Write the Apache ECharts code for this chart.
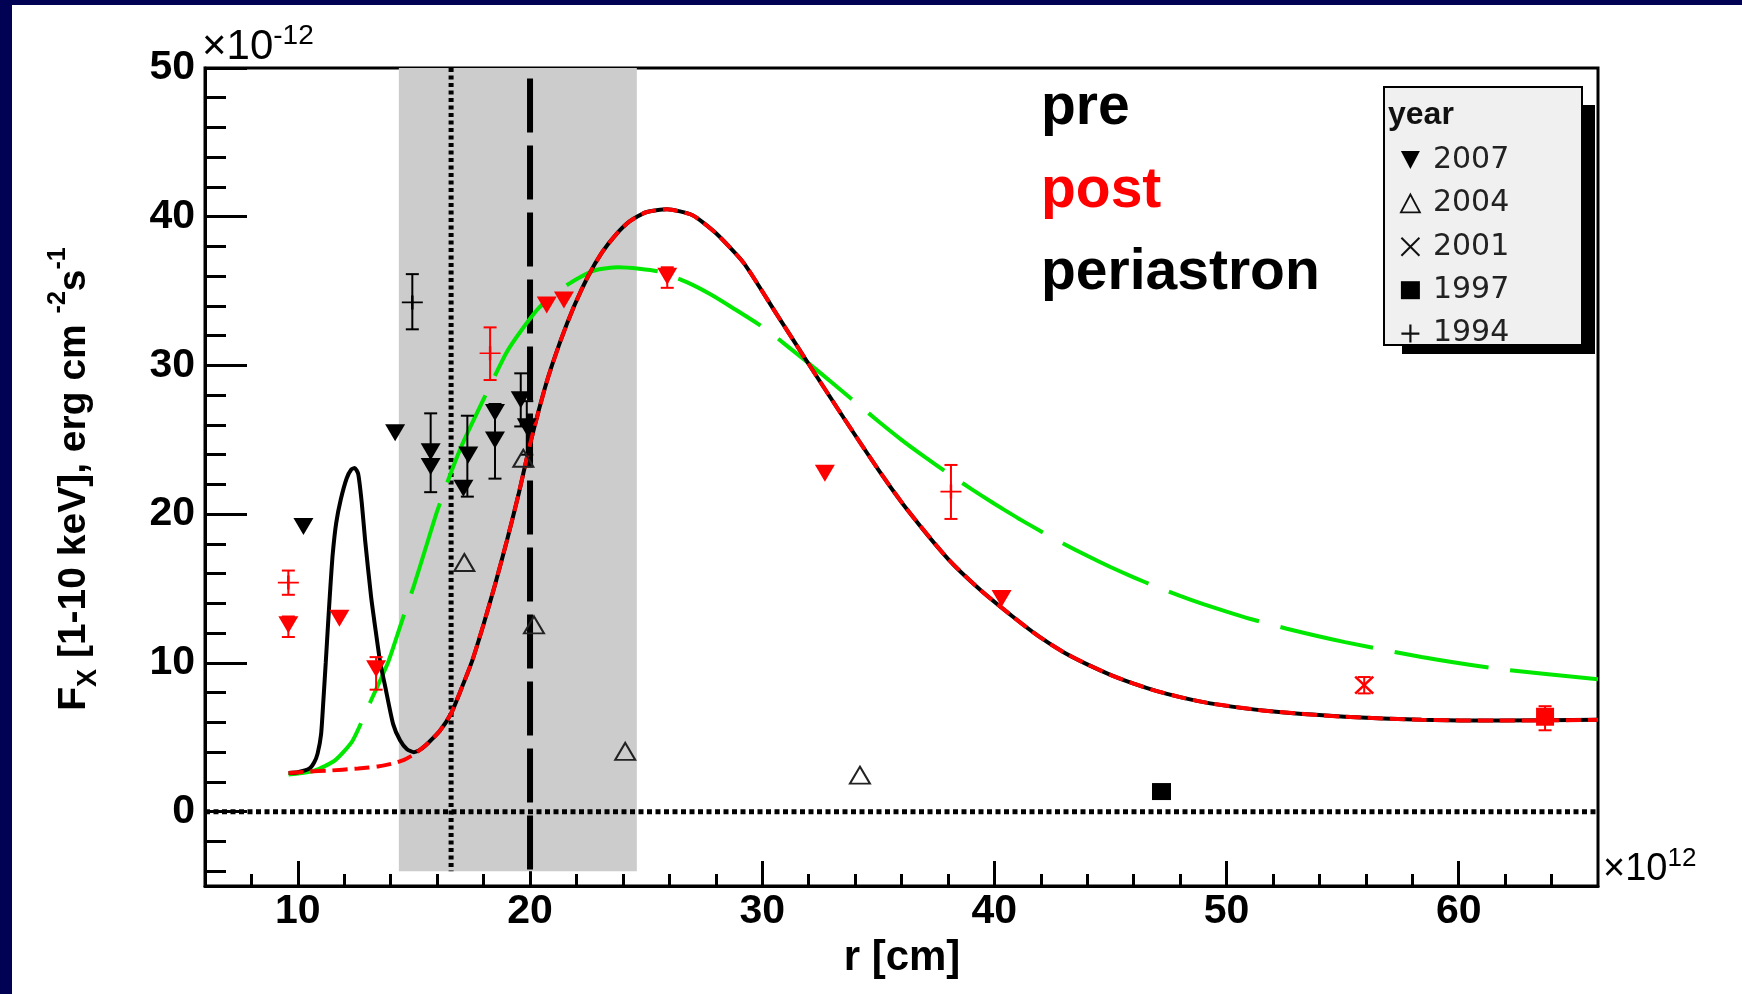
<!DOCTYPE html>
<html><head><meta charset="utf-8">
<script src="https://cdn.jsdelivr.net/npm/echarts@6/dist/echarts.min.js"></script>
<style>html,body{margin:0;padding:0;background:#fff;}#c{width:1742px;height:994px;}</style>
</head><body><div id="c"></div>
<script>
// ---- axes ----
const xRange = [6, 66];
const yRange = [-5, 50];
const xTicks = [10, 20, 30, 40, 50, 60];
const xMinorTicks = [8,12,14,16,18,22,24,26,28,32,34,36,38,42,44,46,48,52,54,56,58,62,64];
const yTicks = [0, 10, 20, 30, 40, 50];
const yMinorTicks = [-4,-2,2,4,6,8,12,14,16,18,22,24,26,28,32,34,36,38,42,44,46,48];

// ---- reference marks ----
const periastronBand = [14.35, 24.6, -4, 50];   // x0, x1, y0, y1
const dottedLineX = 16.6;
const dottedLineY = [50, -4];
const dashedLineX = 20;
const dashedLineY = [49.3, -4.5];
const zeroLineY = 0;

// ---- model curves ----
const preBump = [[9.6,2.6],[10.0,2.65],[10.5,2.9],[10.7,3.3],[10.85,3.9],[11.0,5.2],[11.1,7.5],[11.2,10.0],[11.3,12.6],[11.4,15.1],[11.5,17.3],[11.65,19.4],[11.85,21.0],[12.1,22.4],[12.3,23.0],[12.45,23.1],[12.6,22.7],[12.75,20.8],[12.9,18.2],[13.15,14.5],[13.33,12.4],[13.55,10.0],[13.75,8.5],[14.1,5.9],[14.4,4.8],[14.7,4.2],[15.0,4.0],[15.3,4.2]];
const postStart = [[9.6,2.6],[10.5,2.7],[11.25,2.75],[12.6,2.9],[13.5,3.05],[14.13,3.25],[14.6,3.5],[15.0,3.85],[15.3,4.2]];
const sharedTail = [[15.6,4.6],[16.1,5.4],[16.6,6.6],[17.0,8.1],[17.5,10.1],[18.0,12.6],[18.5,15.3],[19.0,18.2],[19.5,21.3],[20.0,24.7],[20.7,28.8],[21.3,31.6],[21.9,34.0],[22.5,36.0],[23.1,37.6],[23.7,38.8],[24.3,39.7],[25.0,40.3],[25.9,40.5],[27.0,40.1],[28.0,38.9],[29.2,36.9],[30.6,33.5],[32.0,30.1],[33.5,26.5],[35.0,23.0],[36.2,20.4],[38.0,17.0],[39.4,14.9],[40.8,13.1],[41.9,11.8],[43.0,10.7],[44.0,9.9],[45.0,9.2],[46.0,8.6],[47.0,8.1],[48.0,7.7],[49.3,7.28],[51.8,6.76],[55.1,6.38],[58.4,6.17],[61.7,6.12],[66,6.17]];
const greenCurve = [[9.6,2.5],[10.7,2.75],[11.6,3.45],[12.35,4.75],[13.1,7.3],[13.9,10.1],[14.5,12.9],[15.0,15.2],[15.5,17.7],[16.0,20.2],[16.5,22.4],[17.0,24.4],[17.5,26.1],[18.3,28.7],[19.0,30.9],[19.6,32.3],[20.4,33.9],[21.3,35.1],[22.0,35.8],[22.8,36.4],[23.8,36.6],[24.7,36.5],[25.6,36.3],[26.75,35.6],[27.75,34.8],[28.8,33.8],[30.2,32.4],[31.0,31.4],[32.0,30.15],[33.0,28.85],[34.0,27.55],[35.0,26.25],[36.0,25.0],[37.0,23.85],[38.0,22.75],[39.0,21.7],[40.0,20.7],[41.0,19.75],[42.0,18.85],[43.0,18.0],[44.0,17.2],[45.0,16.45],[46.0,15.75],[47.0,15.1],[48.0,14.5],[49.0,13.95],[50.0,13.45],[51.0,12.97],[52.6,12.3],[55.1,11.4],[58.4,10.4],[61.7,9.6],[66,8.9]];

// ---- observations ----
const pre2007 = [[10.24,19.17],[14.19,25.48],[15.72,24.2],[15.72,23.2],[17.34,23.98],[17.13,21.75],[18.49,26.83],[18.49,24.99],[19.6,27.7],[19.86,25.88]];
const post2007 = [[9.59,12.56],[11.79,13.01],[13.37,9.6],[20.72,34.06],[21.46,34.4],[25.91,36.0],[32.7,22.75],[40.31,14.33]];
const pre2004 = [[17.17,16.75],[19.71,23.76],[20.17,12.56],[24.1,4.05],[34.21,2.45]];
const post2001 = [[55.93,8.5]];
const pre1997 = [[47.2,1.35]];
const post1997 = [[63.72,6.38]];
const pre1994 = [[14.93,34.24]];
const post1994 = [[9.59,15.4],[18.28,30.82],[38.13,21.52]];
// error bars: x, low, high
const errPre = [[14.93,32.43,36.14],[15.72,21.48,26.78],[17.3,21.18,26.62],[18.49,22.39,27.41],[19.6,25.9,29.47],[19.86,24.0,27.6]];
const errPost = [[9.59,14.58,16.21],[9.59,11.74,13.12],[13.37,8.2,10.39],[18.28,29.02,32.56],[25.91,35.22,36.6],[38.13,19.68,23.31],[55.93,7.95,9.05],[63.72,5.47,7.09]];

const legendYears = ['2007','2004','2001','1997','1994'];

const RED = '#ff0000', GREEN = '#00e800', BLACK = '#000000';
const FONT = 'Liberation Sans, Arial, sans-serif';
const DOWN_TRI = 'path://M0,0L16,0L8,15Z';
const UP_TRI = 'path://M8,0L16,15L0,15Z';
const CROSS_X = 'path://M0,0L10,10M10,0L0,10';
const PLUS = 'path://M0,5L10,5M5,0L5,10';

function errSeries(data, color) {
  return {
    type: 'custom', z: 6, silent: true, data: data,
    encode: {x: 0, y: [1, 2]},
    renderItem: function (p, api) {
      const x = api.value(0), lo = api.value(1), hi = api.value(2);
      const a = api.coord([x, hi]), b = api.coord([x, lo]);
      const w = 6.5, st = {stroke: color, lineWidth: 2};
      return {type: 'group', children: [
        {type: 'line', shape: {x1: a[0], y1: a[1], x2: b[0], y2: b[1]}, style: st},
        {type: 'line', shape: {x1: a[0]-w, y1: a[1], x2: a[0]+w, y2: a[1]}, style: st},
        {type: 'line', shape: {x1: b[0]-w, y1: b[1], x2: b[0]+w, y2: b[1]}, style: st}
      ]};
    }
  };
}
function refLine(data, width, dash, z) {
  return {type: 'line', data: data, symbol: 'none', silent: true, z: z,
    lineStyle: {color: BLACK, width: width, type: dash}};
}

const chart = echarts.init(document.getElementById('c'), null, {renderer: 'canvas'});
const option = {
  animation: false,
  backgroundColor: '#ffffff',
  grid: {left: 205, right: 144, top: 68, bottom: 108, show: true, borderColor: BLACK, borderWidth: 3, backgroundColor: 'rgba(0,0,0,0)'},
  xAxis: [
    {type: 'value', min: xRange[0], max: xRange[1], position: 'bottom',
      axisLine: {show: true, onZero: false, lineStyle: {color: BLACK, width: 3}},
      axisTick: {show: true, inside: true, length: 25, customValues: xTicks, lineStyle: {color: BLACK, width: 3}},
      axisLabel: {show: true, customValues: xTicks, fontSize: 41, fontWeight: 'bold', fontFamily: FONT, color: BLACK, margin: 5},
      splitLine: {show: false}},
    {type: 'value', min: xRange[0], max: xRange[1], position: 'bottom',
      axisLine: {show: false, onZero: false},
      axisTick: {show: true, inside: true, length: 12, customValues: xMinorTicks, lineStyle: {color: BLACK, width: 3}},
      axisLabel: {show: false}, splitLine: {show: false}}
  ],
  yAxis: [
    {type: 'value', min: yRange[0], max: yRange[1], position: 'left',
      axisLine: {show: true, onZero: false, lineStyle: {color: BLACK, width: 3}},
      axisTick: {show: true, inside: true, length: 42, customValues: yTicks, lineStyle: {color: BLACK, width: 3}},
      axisLabel: {show: true, customValues: yTicks, fontSize: 41, fontWeight: 'bold', fontFamily: FONT, color: BLACK, margin: 10},
      splitLine: {show: false}},
    {type: 'value', min: yRange[0], max: yRange[1], position: 'left',
      axisLine: {show: false, onZero: false},
      axisTick: {show: true, inside: true, length: 21, customValues: yMinorTicks, lineStyle: {color: BLACK, width: 3}},
      axisLabel: {show: false}, splitLine: {show: false}}
  ],
  legend: {
    orient: 'vertical', left: 1395, top: 140, itemWidth: 19, itemHeight: 18, itemGap: 13.4,
    selectedMode: false, z: 10,
    textStyle: {fontFamily: 'DejaVu Sans', fontSize: 30, color: '#222', lineHeight: 30, padding: [0, 0, 0, 8]},
    data: [
      {name: legendYears[0], icon: DOWN_TRI, itemStyle: {color: BLACK, borderWidth: 0}},
      {name: legendYears[1], icon: UP_TRI, itemStyle: {color: 'rgba(0,0,0,0)', borderColor: '#111', borderWidth: 1.8}},
      {name: legendYears[2], icon: CROSS_X, itemStyle: {color: 'rgba(0,0,0,0)', borderColor: '#111', borderWidth: 2}},
      {name: legendYears[3], icon: 'rect', itemStyle: {color: BLACK, borderWidth: 0}},
      {name: legendYears[4], icon: PLUS, itemStyle: {color: 'rgba(0,0,0,0)', borderColor: '#111', borderWidth: 2.2}}
    ]
  },
  graphic: [
    {type: 'rect', shape: {x: 0, y: 0, width: 12, height: 994}, style: {fill: '#020255'}, silent: true},
    {type: 'rect', shape: {x: 0, y: 0, width: 1742, height: 5}, style: {fill: '#020255'}, silent: true},
    {type: 'rect', shape: {x: 1402, y: 105, width: 193, height: 249}, style: {fill: '#000'}, z: 5, silent: true},
    {type: 'rect', shape: {x: 1384, y: 87, width: 198, height: 258}, style: {fill: '#f0f0f0', stroke: '#000', lineWidth: 2}, z: 6, silent: true},
    {type: 'text', x: 1388, y: 115, z: 7, style: {text: 'year', fontFamily: FONT, fontWeight: 'bold', fontSize: 32, fill: '#111', verticalAlign: 'middle', align: 'left'}},
    {type: 'text', x: 1041, y: 108, z: 7, style: {text: 'pre', fontFamily: FONT, fontWeight: 'bold', fontSize: 57, fill: BLACK, verticalAlign: 'middle', align: 'left'}},
    {type: 'text', x: 1041, y: 191, z: 7, style: {text: 'post', fontFamily: FONT, fontWeight: 'bold', fontSize: 57, fill: RED, verticalAlign: 'middle', align: 'left'}},
    {type: 'text', x: 1041, y: 273, z: 7, style: {text: 'periastron', fontFamily: FONT, fontWeight: 'bold', fontSize: 57, fill: BLACK, verticalAlign: 'middle', align: 'left'}},
    {type: 'text', x: 902, y: 958, z: 7, style: {text: 'r [cm]', fontFamily: FONT, fontWeight: 'bold', fontSize: 42, fill: BLACK, verticalAlign: 'middle', align: 'center'}},
    {type: 'text', x: 74, y: 479, rotation: Math.PI / 2, z: 7, style: {
      text: '{b|F}{s|X}{b| [1-10 keV], erg cm }{p|-2}{b|s}{p|-1}',
      align: 'center', verticalAlign: 'middle', fill: BLACK,
      rich: {
        b: {fontFamily: FONT, fontWeight: 'bold', fontSize: 39, lineHeight: 56, fill: BLACK},
        s: {fontFamily: FONT, fontWeight: 'bold', fontSize: 27, lineHeight: 28, verticalAlign: 'bottom', fill: BLACK},
        p: {fontFamily: FONT, fontWeight: 'bold', fontSize: 25, lineHeight: 26, verticalAlign: 'top', fill: BLACK}
      }}},
    {type: 'text', x: 202, y: 47, z: 7, style: {
      text: '{a|×10}{p|-12}', align: 'left', verticalAlign: 'middle',
      rich: {a: {fontFamily: FONT, fontSize: 42, lineHeight: 50, fill: BLACK}, p: {fontFamily: FONT, fontSize: 28, lineHeight: 28, verticalAlign: 'top', fill: BLACK}}}},
    {type: 'text', x: 1603, y: 870, z: 7, style: {
      text: '{a|×10}{p|12}', align: 'left', verticalAlign: 'middle',
      rich: {a: {fontFamily: FONT, fontSize: 38, lineHeight: 48, fill: BLACK}, p: {fontFamily: FONT, fontSize: 26, lineHeight: 26, verticalAlign: 'top', fill: BLACK}}}}
  ],
  series: [
    {type: 'custom', z: 1, silent: true, data: [periastronBand], encode: {x: [0, 1], y: [2, 3]},
      renderItem: function (p, api) {
        const a = api.coord([api.value(0), api.value(3)]);
        const b = api.coord([api.value(1), api.value(2)]);
        return {type: 'rect', shape: {x: a[0], y: a[1], width: b[0] - a[0], height: b[1] - a[1]}, style: {fill: '#cccccc'}};
      }},
    refLine([[dottedLineX, dottedLineY[0]], [dottedLineX, dottedLineY[1]]], 5, [4, 3.5], 2),
    refLine([[dashedLineX, dashedLineY[0]], [dashedLineX, dashedLineY[1]]], 6, [54, 13], 2),
    refLine([[xRange[0], zeroLineY], [xRange[1], zeroLineY]], 5, [5, 3.5], 2),
    {type: 'line', name: 'model', data: greenCurve, symbol: 'none', smooth: 0.2, z: 3, silent: true,
      lineStyle: {color: GREEN, width: 4, type: [95, 22]}},
    {type: 'line', name: 'pre-curve', data: preBump.concat(sharedTail), symbol: 'none', smooth: 0.2, z: 4, silent: true,
      lineStyle: {color: BLACK, width: 4, type: 'solid'}},
    {type: 'line', name: 'post-curve', data: postStart.concat(sharedTail), symbol: 'none', smooth: 0.2, z: 5, silent: true,
      lineStyle: {color: RED, width: 4, type: [15, 7]}},
    errSeries(errPre, BLACK),
    errSeries(errPost, RED),
    {type: 'scatter', name: '2007', data: pre2007, symbol: DOWN_TRI, symbolSize: [20, 17], z: 7, itemStyle: {color: BLACK, opacity: 1}},
    {type: 'scatter', name: '2007', data: post2007, symbol: DOWN_TRI, symbolSize: [20, 17], z: 7, itemStyle: {color: RED, opacity: 1}},
    {type: 'scatter', name: '2004', data: pre2004, symbol: UP_TRI, symbolSize: [20, 17], z: 7, itemStyle: {color: 'rgba(0,0,0,0)', borderColor: '#222', borderWidth: 2, opacity: 1}},
    {type: 'scatter', name: '2001', data: post2001, symbol: CROSS_X, symbolSize: [18, 17], z: 7, itemStyle: {color: 'rgba(0,0,0,0)', borderColor: RED, borderWidth: 2.5, opacity: 1}},
    {type: 'scatter', name: '1997', data: pre1997, symbol: 'rect', symbolSize: [19, 17], z: 7, itemStyle: {color: BLACK, opacity: 1}},
    {type: 'scatter', name: '1997', data: post1997, symbol: 'rect', symbolSize: [18, 18], z: 7, itemStyle: {color: RED, opacity: 1}},
    {type: 'scatter', name: '1994', data: pre1994, symbol: PLUS, symbolSize: [21, 14], z: 7, itemStyle: {color: 'rgba(0,0,0,0)', borderColor: BLACK, borderWidth: 2, opacity: 1}},
    {type: 'scatter', name: '1994', data: post1994, symbol: PLUS, symbolSize: [21, 14], z: 7, itemStyle: {color: 'rgba(0,0,0,0)', borderColor: RED, borderWidth: 2, opacity: 1}}
  ]
};
chart.setOption(option);
</script>
</body></html>
